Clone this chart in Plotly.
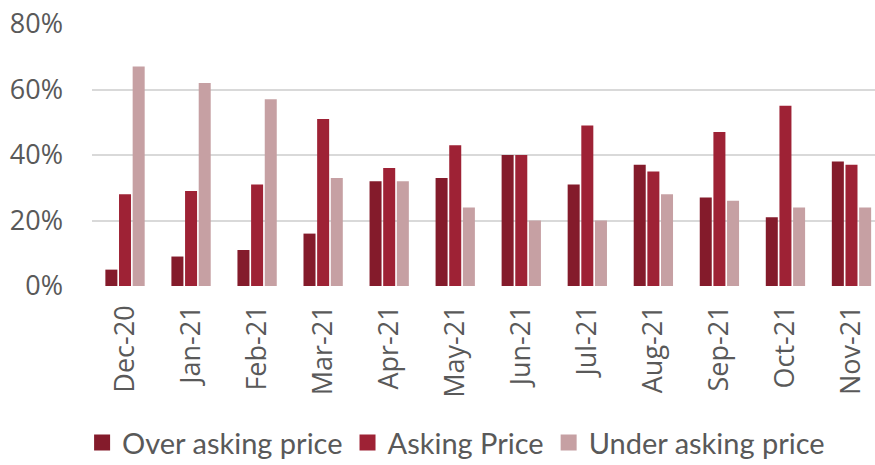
import plotly.graph_objects as go

months = ["Dec-20", "Jan-21", "Feb-21", "Mar-21", "Apr-21", "May-21",
          "Jun-21", "Jul-21", "Aug-21", "Sep-21", "Oct-21", "Nov-21"]
over_asking = [0.05, 0.09, 0.11, 0.16, 0.32, 0.33, 0.40, 0.31, 0.37, 0.27, 0.21, 0.38]
asking = [0.28, 0.29, 0.31, 0.51, 0.36, 0.43, 0.40, 0.49, 0.35, 0.47, 0.55, 0.37]
under_asking = [0.67, 0.62, 0.57, 0.33, 0.32, 0.24, 0.20, 0.20, 0.28, 0.26, 0.24, 0.24]
y_ticks = [0, 0.2, 0.4, 0.6, 0.8]
y_tick_labels = ["0%", "20%", "40%", "60%", "80%"]

series = [
    ("Over asking price", over_asking, "#841B2B"),
    ("Asking Price", asking, "#9E2235"),
    ("Under asking price", under_asking, "#C6A0A3"),
]

fig = go.Figure()
for name, vals, col in series:
    fig.add_trace(go.Bar(x=months, y=vals, name=name, marker_color=col,
                         marker_line_width=0, showlegend=False))
for name, vals, col in series:
    fig.add_trace(go.Scatter(x=[None], y=[None], mode="markers", name=name,
                             marker=dict(symbol="square", size=16, color=col)))

fig.update_layout(
    width=875, height=465,
    margin=dict(l=92, r=0, t=24, b=179),
    paper_bgcolor="white", plot_bgcolor="white",
    barmode="group", bargap=0.38, bargroupgap=0.12,
    font=dict(family="Open Sans", color="#595959"),
    legend=dict(orientation="h", x=0.465, xanchor="center",
                yref="container", y=0.048, yanchor="middle",
                font=dict(family="Lato", size=29, color="#595959"),
                itemwidth=30, tracegroupgap=0, entrywidth=0),
)
fig.update_xaxes(type="category", range=[-0.5, 11.356], tickangle=-90,
                 tickfont=dict(size=27, color="#595959"), showgrid=False,
                 showline=False, ticks="", automargin=False, ticklabelstandoff=13)
fig.update_yaxes(range=[0, 0.8], tickvals=y_ticks, ticktext=y_tick_labels,
                 tickfont=dict(size=27, color="#595959"), showgrid=True,
                 gridcolor="#D9D9D9", gridwidth=1.5, zeroline=False,
                 showline=False, ticks="", automargin=False, ticklabelstandoff=28)
fig.write_html("out.html")
